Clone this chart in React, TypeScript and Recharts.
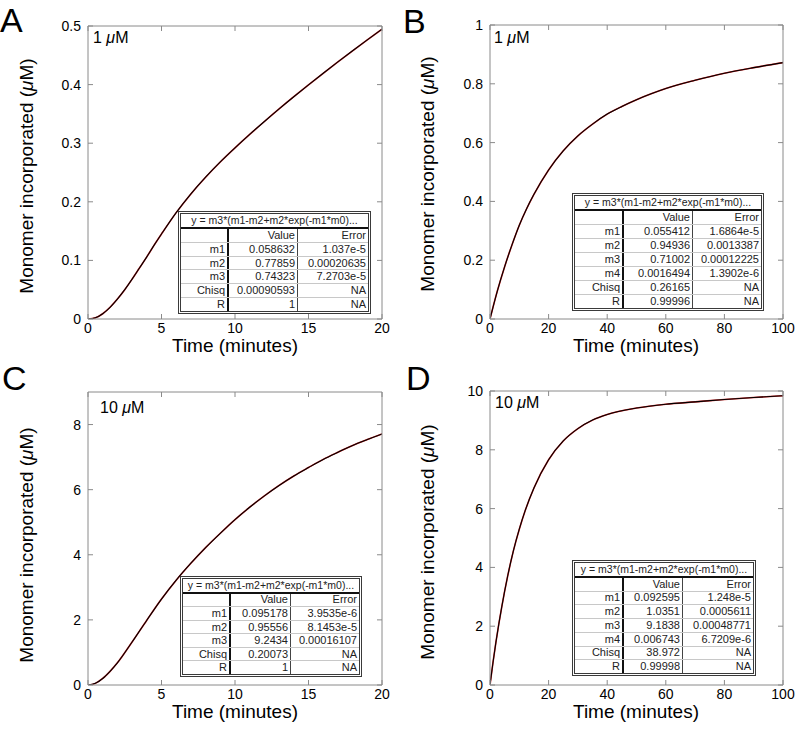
import React from "react";
import { LineChart, Line, XAxis, YAxis } from "recharts";

// (minutes, µM)
const timeA = [0, 0.5, 1, 1.5, 2, 2.5, 3, 3.5, 4, 4.5, 5, 6, 7, 8, 9, 10, 11, 12, 13, 14, 15, 16, 17, 18, 19, 20];
const valueA = [0, 0.002, 0.009, 0.02, 0.034, 0.05, 0.068, 0.087, 0.106, 0.126, 0.145, 0.1815, 0.2135, 0.242, 0.268, 0.292, 0.315, 0.337, 0.3585, 0.3793, 0.3995, 0.4193, 0.4387, 0.4577, 0.4764, 0.4946];

const timeB = [0, 1, 2.5, 5, 7.5, 10, 12.5, 15, 20, 25, 30, 35, 40, 45, 50, 55, 60, 70, 80, 90, 100];
const valueB = [0, 0.039, 0.095, 0.178, 0.252, 0.319, 0.375, 0.424, 0.507, 0.572, 0.623, 0.663, 0.697, 0.723, 0.746, 0.766, 0.784, 0.812, 0.836, 0.855, 0.872];

const timeC = [0, 0.5, 1, 1.5, 2, 3, 4, 5, 6, 7, 8, 9, 10, 11, 12, 13, 14, 15, 16, 17, 18, 19, 20];
const valueC = [0, 0.05, 0.2, 0.42, 0.68, 1.32, 1.99, 2.64, 3.22, 3.74, 4.22, 4.66, 5.08, 5.46, 5.81, 6.13, 6.42, 6.68, 6.93, 7.15, 7.36, 7.54, 7.71];

const timeD = [0, 1, 2, 3, 4, 5, 6, 8, 10, 12, 15, 20, 25, 30, 35, 40, 50, 60, 70, 80, 90, 100];
const valueD = [0, 0.75, 1.44, 2.07, 2.65, 3.19, 3.69, 4.57, 5.3, 5.93, 6.7, 7.66, 8.3, 8.72, 9.01, 9.2, 9.42, 9.55, 9.63, 9.71, 9.78, 9.84];

const xTicksShort = [0, 5, 10, 15, 20];
const xTicksLong = [0, 20, 40, 60, 80, 100];
const yTicksA = [0, 0.1, 0.2, 0.3, 0.4, 0.5];
const yTicksB = [0, 0.2, 0.4, 0.6, 0.8, 1];
const yTicksC = [0, 2, 4, 6, 8];
const yTicksD = [0, 2, 4, 6, 8, 10];

const FORMULA = "y = m3*(m1-m2+m2*exp(-m1*m0)...";
const fitA = [
  ["m1", "0.058632", "1.037e-5"],
  ["m2", "0.77859", "0.00020635"],
  ["m3", "0.74323", "7.2703e-5"],
  ["Chisq", "0.00090593", "NA"],
  ["R", "1", "NA"],
];
const fitB = [
  ["m1", "0.055412", "1.6864e-5"],
  ["m2", "0.94936", "0.0013387"],
  ["m3", "0.71002", "0.00012225"],
  ["m4", "0.0016494", "1.3902e-6"],
  ["Chisq", "0.26165", "NA"],
  ["R", "0.99996", "NA"],
];
const fitC = [
  ["m1", "0.095178", "3.9535e-6"],
  ["m2", "0.95556", "8.1453e-5"],
  ["m3", "9.2434", "0.00016107"],
  ["Chisq", "0.20073", "NA"],
  ["R", "1", "NA"],
];
const fitD = [
  ["m1", "0.092595", "1.248e-5"],
  ["m2", "1.0351", "0.0005611"],
  ["m3", "9.1838", "0.00048771"],
  ["m4", "0.006743", "6.7209e-6"],
  ["Chisq", "38.972", "NA"],
  ["R", "0.99998", "NA"],
];

const FONT = '"Liberation Sans", Arial, Helvetica, sans-serif';
const FRAME = "#8a8a8a";

const NoTick = () => <g />;

function Panel({ left, top, width, height, margin, times, values, xTicks, yTicks, xMax, yMax }) {
  const data = times.map((t, i) => ({ t, v: values[i] }));
  const tickStyle = { fill: "#000", fontSize: 14, fontFamily: FONT };
  return (
    <div style={{ position: "absolute", left, top }}>
      <LineChart width={width} height={height} data={data} margin={margin}>
        <XAxis xAxisId="b" dataKey="t" type="number" domain={[0, xMax]} ticks={xTicks} allowDataOverflow
          orientation="bottom" height={30} tickSize={-5} tickMargin={9} stroke={FRAME} tick={tickStyle} interval={0} />
        <XAxis xAxisId="t" dataKey="t" type="number" domain={[0, xMax]} ticks={xTicks} allowDataOverflow
          orientation="top" height={10} tickSize={-5} stroke={FRAME} tick={NoTick} interval={0} />
        <YAxis yAxisId="l" type="number" domain={[0, yMax]} ticks={yTicks} allowDataOverflow
          width={60} tickSize={-5} tickMargin={12} stroke={FRAME} tick={tickStyle} interval={0} />
        <YAxis yAxisId="r" orientation="right" type="number" domain={[0, yMax]} ticks={yTicks} allowDataOverflow
          width={10} tickSize={-5} stroke={FRAME} tick={NoTick} interval={0} />
        <Line xAxisId="b" yAxisId="l" dataKey="v" type="monotone" stroke="#d42a2a" strokeWidth={1.6}
          dot={false} isAnimationActive={false} />
        <Line xAxisId="b" yAxisId="l" dataKey="v" type="monotone" stroke="#000" strokeWidth={1.1}
          dot={false} isAnimationActive={false} />
      </LineChart>
    </div>
  );
}

const cell = {
  display: "flex",
  alignItems: "center",
  justifyContent: "flex-end",
  paddingRight: 2,
  boxSizing: "border-box" as const,
  whiteSpace: "nowrap" as const,
};

function FitTable({ left, top, width, height, col1, col2, rows }) {
  const allRows = [["", "Value", "Error"], ...rows];
  return (
    <div style={{
      position: "absolute", left, top, width, height, boxSizing: "border-box",
      border: "3px double #3a3a3a", background: "#fff", display: "flex", flexDirection: "column",
      fontFamily: FONT, fontSize: 11, color: "#222", lineHeight: 1,
    }}>
      <div style={{ flex: 1, display: "flex", alignItems: "center", justifyContent: "center",
        borderBottom: "2px solid #111", whiteSpace: "nowrap", fontSize: 10.5 }}>{FORMULA}</div>
      {allRows.map((r, i) => (
        <div key={i} style={{ flex: 1, display: "flex", borderTop: i > 0 ? "1px solid #c8c8c8" : "none" }}>
          <div style={{ ...cell, width: col1, borderRight: "2px solid #111" }}>{r[0]}</div>
          <div style={{ ...cell, width: col2, borderRight: "1px solid #444" }}>{r[1]}</div>
          <div style={{ ...cell, flex: 1 }}>{r[2]}</div>
        </div>
      ))}
    </div>
  );
}

const YTitle = ({ x, y }) => (
  <text x={x} y={y} transform={`rotate(-90 ${x} ${y})`} textAnchor="middle" fontSize={19} fontFamily={FONT}>
    Monomer incorporated (<tspan fontStyle="italic">μ</tspan>M)
  </text>
);

const XTitle = ({ x, y }) => (
  <text x={x} y={y} textAnchor="middle" fontSize={19} fontFamily={FONT}>Time (minutes)</text>
);

const Conc = ({ x, y, amount }) => (
  <text x={x} y={y} fontSize={16} fontFamily={FONT}>
    {amount} <tspan fontStyle="italic">μ</tspan>M
  </text>
);

export default function App() {
  return (
    <div style={{ position: "absolute", left: 0, top: 0, width: 796, height: 731, background: "#fff" }}>
      <Panel left={0} top={0} width={400} height={370} margin={{ top: 16, right: 8, bottom: 21, left: 28 }}
        times={timeA} values={valueA} xTicks={xTicksShort} yTicks={yTicksA} xMax={20} yMax={0.5} />
      <Panel left={400} top={0} width={396} height={370} margin={{ top: 15, right: 3, bottom: 21, left: 30 }}
        times={timeB} values={valueB} xTicks={xTicksLong} yTicks={yTicksB} xMax={100} yMax={1} />
      <Panel left={0} top={370} width={400} height={361} margin={{ top: 12, right: 8, bottom: 16, left: 28 }}
        times={timeC} values={valueC} xTicks={xTicksShort} yTicks={yTicksC} xMax={20} yMax={9} />
      <Panel left={400} top={370} width={396} height={361} margin={{ top: 11, right: 3, bottom: 16, left: 30 }}
        times={timeD} values={valueD} xTicks={xTicksLong} yTicks={yTicksD} xMax={100} yMax={10} />

      <svg width={796} height={731} style={{ position: "absolute", left: 0, top: 0, pointerEvents: "none" }}>
        <g fontFamily={FONT} fontSize={34}>
          <text x={0} y={32}>A</text>
          <text x={403} y={33}>B</text>
          <text x={2} y={390}>C</text>
          <text x={406} y={390}>D</text>
        </g>
        <YTitle x={33} y={176} />
        <YTitle x={434} y={174} />
        <YTitle x={33} y={545} />
        <YTitle x={434} y={542} />
        <XTitle x={235} y={352} />
        <XTitle x={636} y={352} />
        <XTitle x={235} y={718} />
        <XTitle x={636} y={718} />
        <Conc x={93} y={43} amount="1" />
        <Conc x={494} y={43} amount="1" />
        <Conc x={100} y={413} amount="10" />
        <Conc x={495} y={408} amount="10" />
      </svg>

      <FitTable left={178} top={211} width={193} height={103} col1={48} col2={69} rows={fitA} />
      <FitTable left={572} top={193} width={192} height={118} col1={49} col2={69} rows={fitB} />
      <FitTable left={180} top={576} width={182} height={101} col1={48} col2={60} rows={fitC} />
      <FitTable left={572} top={560} width={184} height={116} col1={49} col2={59} rows={fitD} />
    </div>
  );
}
